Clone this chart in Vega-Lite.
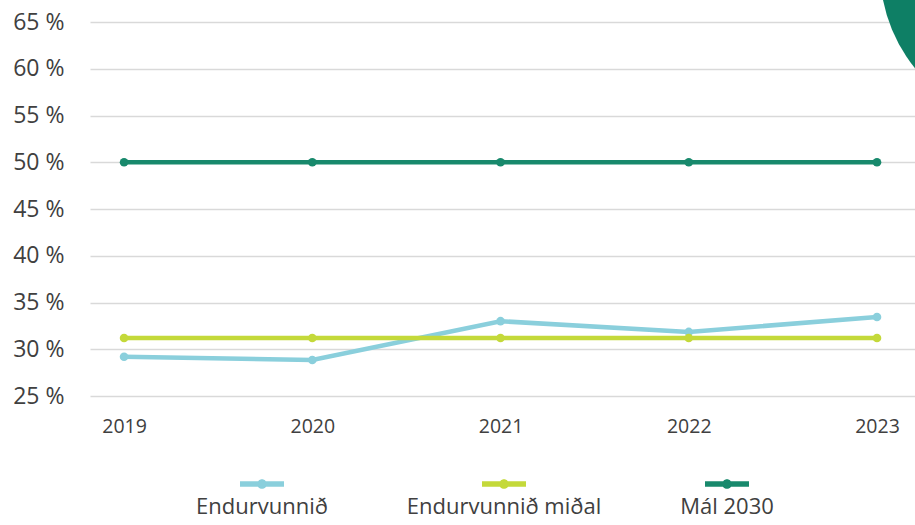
{
  "$schema": "https://vega.github.io/schema/vega-lite/v6.json",
  "autosize": {"type": "none"},
  "width": 825,
  "height": 374,
  "padding": {"left": 90, "top": 22, "right": 0, "bottom": 129},
  "background": "white",
  "config": {
    "view": {"stroke": null},
    "font": "Open Sans",
    "axis": {"labelFont": "Open Sans", "labelColor": "#404040"}
  },
  "datasets": {
    "series": [
      {"year": 2019, "series": "Endurvunnið", "value": 29.2},
      {"year": 2020, "series": "Endurvunnið", "value": 28.85},
      {"year": 2021, "series": "Endurvunnið", "value": 33.0},
      {"year": 2022, "series": "Endurvunnið", "value": 31.85},
      {"year": 2023, "series": "Endurvunnið", "value": 33.45},
      {"year": 2019, "series": "Endurvunnið miðal", "value": 31.2},
      {"year": 2020, "series": "Endurvunnið miðal", "value": 31.2},
      {"year": 2021, "series": "Endurvunnið miðal", "value": 31.2},
      {"year": 2022, "series": "Endurvunnið miðal", "value": 31.2},
      {"year": 2023, "series": "Endurvunnið miðal", "value": 31.2},
      {"year": 2019, "series": "Mál 2030", "value": 50},
      {"year": 2020, "series": "Mál 2030", "value": 50},
      {"year": 2021, "series": "Mál 2030", "value": 50},
      {"year": 2022, "series": "Mál 2030", "value": 50},
      {"year": 2023, "series": "Mál 2030", "value": 50}
    ],
    "decor": [
      {"year": 2023.855, "value": 70.67}
    ]
  },
  "layer": [
    {
      "data": {"name": "series"},
      "mark": {"type": "line", "strokeWidth": 4.5, "point": {"filled": true, "size": 75}},
      "encoding": {
        "x": {
          "field": "year", "type": "quantitative",
          "scale": {"domain": [2018.819, 2023.202], "nice": false, "zero": false},
          "axis": {
            "values": [2019, 2020, 2021, 2022, 2023], "format": "d", "title": null,
            "grid": false, "domain": false, "ticks": false,
            "labelFontSize": 19.5, "labelPadding": 21, "labelColor": "#404040"
          }
        },
        "y": {
          "field": "value", "type": "quantitative",
          "scale": {"domain": [25, 65], "nice": false, "zero": false},
          "axis": {
            "values": [25, 30, 35, 40, 45, 50, 55, 60, 65], "title": null,
            "labelExpr": "datum.value + ' %'",
            "grid": true, "gridColor": "#D9D9D9", "gridWidth": 1.5,
            "domain": false, "ticks": false,
            "labelFontSize": 23, "labelPadding": 26, "labelColor": "#404040"
          }
        },
        "color": {
          "field": "series", "type": "nominal",
          "scale": {
            "domain": ["Endurvunnið", "Endurvunnið miðal", "Mál 2030"],
            "range": ["#8ACFDC", "#C4D93A", "#18896C"]
          },
          "legend": {
            "title": null,
            "orient": "none",
            "direction": "horizontal",
            "legendX": 150,
            "legendY": 440,
            "symbolType": "M-1,-0.125L1,-0.125L1,0.125L-1,0.125Z M-0.22,0A0.22,0.22,0,1,1,0.22,0A0.22,0.22,0,1,1,-0.22,0Z",
            "symbolSize": 1936,
            "symbolStrokeWidth": 0,
            "labelFontSize": 22,
            "labelLimit": 400,
            "labelColor": "#404040",
            "labelFont": "Open Sans",
            "labelAlign": "center",
            "labelOffset": -22,
            "columnPadding": 78,
            "encode": {
              "symbols": {"update": {"fill": {"scale": "color", "field": "value"}, "strokeWidth": {"value": 0}}},
              "labels": {"update": {"dy": {"value": 23}}}
            }
          }
        },
        "order": {"field": "series"}
      }
    },
    {
      "data": {"name": "decor"},
      "mark": {"type": "point", "shape": "circle", "filled": true, "size": 99856, "color": "#0E7F65", "opacity": 1},
      "encoding": {
        "x": {"field": "year", "type": "quantitative"},
        "y": {"field": "value", "type": "quantitative"}
      }
    }
  ]
}
